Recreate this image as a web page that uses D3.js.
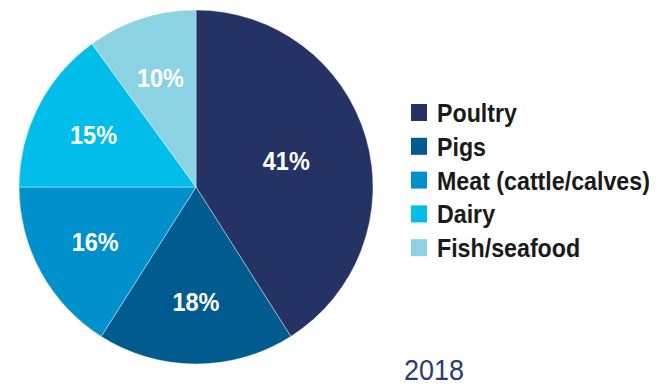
<!DOCTYPE html>
<html>
<head>
<meta charset="utf-8">
<script src="https://cdn.jsdelivr.net/npm/d3@7"></script>
<style>
  body { margin: 0; background: #fff; }
  text { font-family: "Liberation Sans", Arial, sans-serif; }
</style>
</head>
<body>
<svg id="chart" width="661" height="385"></svg>
<script>
// Data
const categories = ['Poultry', 'Pigs', 'Meat (cattle/calves)', 'Dairy', 'Fish/seafood'];
const shares = [41, 18, 16, 15, 10];
const colors = ['#243364', '#005b8e', '#0090cc', '#00bde9', '#8bd2e3'];
const yearLabel = '2018';

const svg = d3.select('#chart');

const cx = 196, cy = 187, radius = 177;

const data = categories.map((c, i) => ({ name: c, value: shares[i], color: colors[i] }));

// squeeze a text horizontally so it looks like a condensed face
function condense(sel, k) {
  sel.each(function () {
    const t = d3.select(this);
    const x = +t.attr('x') || 0;
    t.attr('transform', `translate(${x * (1 - k)},0) scale(${k},1)`);
  });
}

const pie = d3.pie()
  .value(d => d.value)
  .sort(null);

const arc = d3.arc().innerRadius(0).outerRadius(radius);
// big slice label sits closer to centre
const labelArc = d => {
  const r = d.data.value > 30 ? 94 : 115;
  return d3.arc().innerRadius(r).outerRadius(r).centroid(d);
};

const g = svg.append('g').attr('transform', `translate(${cx},${cy})`);

g.selectAll('path')
  .data(pie(data))
  .enter()
  .append('path')
  .attr('d', arc)
  .attr('fill', d => d.data.color)
  .attr('stroke', '#fff')
  .attr('stroke-width', 0.4);

// Percent labels
const pct = g.selectAll('g.pct')
  .data(pie(data))
  .enter()
  .append('g')
  .attr('class', 'pct')
  .attr('transform', d => `translate(${labelArc(d)})`)
  .append('text')
  .attr('text-anchor', 'middle')
  .attr('dy', '0.36em')
  .attr('fill', '#fff')
  .style('font-weight', 'bold')
  .style('font-size', '25px')
  .text(d => d.data.value + '%');

const pctW = pct.nodes()[1].getComputedTextLength();
condense(pct, 47 / pctW);

// Legend
const legend = svg.append('g').attr('transform', 'translate(411, 104)');

const rows = legend.selectAll('g')
  .data(data)
  .enter()
  .append('g')
  .attr('transform', (d, i) => `translate(0, ${i * 33.8})`);

rows.append('rect')
  .attr('width', 16)
  .attr('height', 17)
  .attr('fill', d => d.color);

const legText = rows.append('text')
  .attr('x', 26)
  .attr('y', 18)
  .attr('fill', '#1a1a1a')
  .style('font-weight', 'bold')
  .style('font-size', '26px')
  .text(d => d.name);

const legW = d3.max(legText.nodes(), n => n.getComputedTextLength());
condense(legText, 213 / legW);

// Year
const year = svg.append('text')
  .attr('x', 404)
  .attr('y', 380)
  .attr('fill', '#2e3a78')
  .style('font-size', '30px')
  .text(yearLabel);

condense(year, 60 / year.node().getComputedTextLength());
</script>
</body>
</html>
